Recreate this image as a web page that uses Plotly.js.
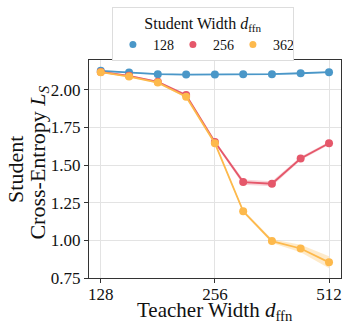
<!DOCTYPE html>
<html>
<head>
<meta charset="utf-8">
<script src="https://cdn.plot.ly/plotly-3.0.1.min.js"></script>
<style>
  html, body { margin:0; padding:0; background:#fff; }
  #chart { width:349px; height:331px; }
</style>
</head>
<body>
<div id="chart"></div>
<script>
// teacher widths (log2 spaced) and student loss per student width
const teacherWidth = [128, 152, 181, 215, 256, 304, 362, 431, 512];
const studentWidths = ['128', '256', '362'];
const loss128 = [2.126, 2.115, 2.104, 2.101, 2.101, 2.104, 2.104, 2.110, 2.117];
const loss256 = [2.119, 2.093, 2.053, 1.965, 1.654, 1.387, 1.376, 1.544, 1.645];
const loss362 = [2.117, 2.088, 2.048, 1.954, 1.645, 1.193, 0.995, 0.946, 0.854];
// half-width of the shaded band
const err128 = [0.006, 0.004, 0.004, 0.004, 0.004, 0.004, 0.004, 0.004, 0.005];
const err256 = [0.006, 0.005, 0.005, 0.008, 0.010, 0.018, 0.016, 0.012, 0.010];
const err362 = [0.006, 0.005, 0.005, 0.008, 0.010, 0.010, 0.013, 0.025, 0.040];

const COLORS = ['#4a97c8', '#e5576a', '#fdb94c'];
const FILLS  = ['rgba(74,151,200,.25)', 'rgba(229,87,106,.25)', 'rgba(253,185,76,.3)'];
const FONT   = '"Liberation Serif", "Times New Roman", serif';

const series = [loss128, loss256, loss362];
const errs   = [err128, err256, err362];

const traces = [];
series.forEach((ys, i) => {
  const up = ys.map((v, k) => v + errs[i][k]);
  const lo = ys.map((v, k) => v - errs[i][k]);
  traces.push({
    x: [...teacherWidth, ...teacherWidth.slice().reverse()],
    y: [...up, ...lo.slice().reverse()],
    type:'scatter', mode:'lines', fill:'toself', fillcolor:FILLS[i],
    line:{width:0}, hoverinfo:'skip', showlegend:false,
  });
});
series.forEach((ys, i) => {
  traces.push({
    x: teacherWidth, y: ys, type:'scatter', mode:'lines+markers',
    line:{color:COLORS[i], width:1.8},
    marker:{color:COLORS[i], size:8},
    showlegend:false,
  });
});
// legend entries: dots only
studentWidths.forEach((name, i) => {
  traces.push({
    x:[null], y:[null], type:'scatter', mode:'markers', name,
    marker:{color:COLORS[i], size:7},
  });
});

const axisCommon = {
  showline:true, linecolor:'#333', linewidth:1.2, mirror:true,
  ticks:'outside', ticklen:4, tickcolor:'#333',
  gridcolor:'#e3e3e3', zeroline:false,
  tickfont:{family:FONT, size:17, color:'#111'},
};

Plotly.newPlot('chart', traces, {
  width:349, height:331,
  margin:{l:89, r:8, t:59, b:53},
  paper_bgcolor:'#fff', plot_bgcolor:'#fff',
  font:{family:FONT, color:'#111'},
  xaxis:{ ...axisCommon, type:'log', range:[2.0762, 2.7409],
          tickvals:[128, 256, 512], ticktext:['128', '256', '512'],
          ticklabelstandoff:-4 },
  yaxis:{ ...axisCommon, range:[0.75, 2.198], tickvals:[0.75, 1.0, 1.25, 1.5, 1.75, 2.0],
          tickformat:'.2f' },
  annotations:[
    { text:'Teacher Width <i>d</i><sub>ffn</sub>', xref:'paper', yref:'paper',
      x:0.5, y:-0.152, xanchor:'center', yanchor:'middle', showarrow:false,
      font:{family:FONT, size:21, color:'#111'} },
    { text:'Student', xref:'paper', yref:'paper', textangle:-90,
      x:-0.294, y:0.5, xanchor:'center', yanchor:'middle', showarrow:false,
      font:{family:FONT, size:22, color:'#111'} },
    { text:'Cross-Entropy <i>L<sub>S</sub></i>', xref:'paper', yref:'paper', textangle:-90,
      x:-0.198, y:0.53, xanchor:'center', yanchor:'middle', showarrow:false,
      font:{family:FONT, size:22, color:'#111'} },
  ],
  legend:{ orientation:'h', x:0.452, xanchor:'center', y:1.237, yanchor:'top',
           bordercolor:'#ddd', borderwidth:1, bgcolor:'#fff',
           font:{family:FONT, size:14},
           title:{text:'Student Width <i>d</i><sub>ffn</sub>', side:'top center', font:{family:FONT, size:16}},
           itemwidth:30, entrywidth:15, entrywidthmode:'pixels' },
  showlegend:true,
}, {displayModeBar:false, staticPlot:true});
</script>
</body>
</html>
